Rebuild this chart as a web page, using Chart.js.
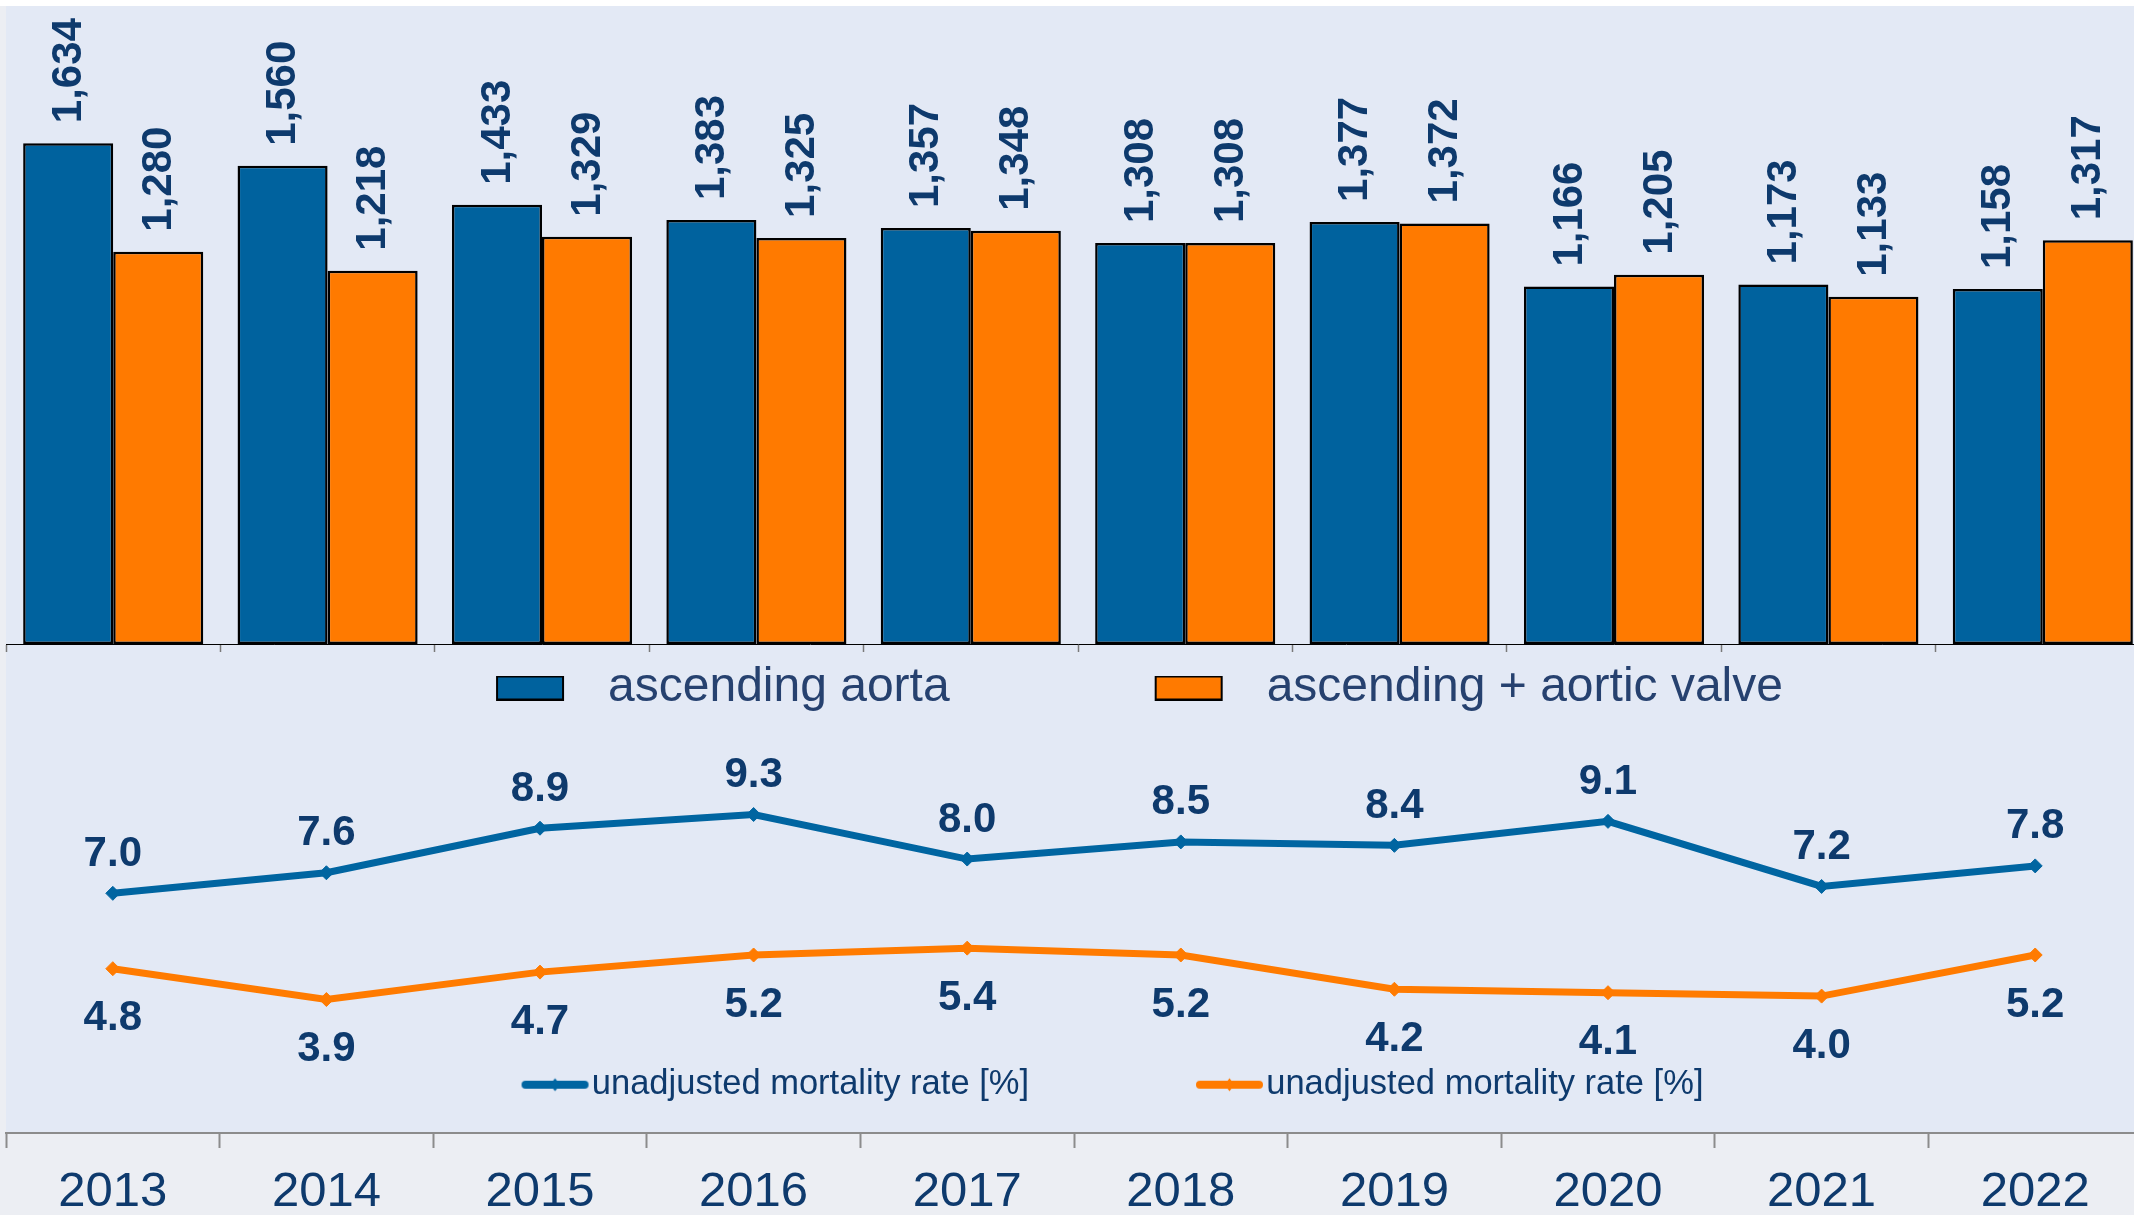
<!DOCTYPE html>
<html>
<head>
<meta charset="utf-8">
<script src="https://cdn.jsdelivr.net/npm/chart.js@4.4.1/dist/chart.umd.min.js"></script>
<style>
  html, body { margin: 0; padding: 0; width: 2134px; height: 1215px; overflow: hidden; background: #ECEEF3; position: relative; }
  #topstrip { position: absolute; left: 0; top: 0; width: 2134px; height: 6px; background: #ffffff; }
  #panel { position: absolute; left: 6px; top: 6px; width: 2128px; height: 1128px; background: #E3E9F5; }
  canvas { position: absolute; }
  #c1 { left: -64px; top: 0px; }
  #c2 { left: -72px; top: 700px; }
</style>
</head>
<body>
<div id="topstrip"></div>
<div id="panel"></div>
<canvas id="c1" width="2214" height="722"></canvas>
<canvas id="c2" width="2222" height="515"></canvas>
<script>
// ---- data ----
const years = ['2013', '2014', '2015', '2016', '2017', '2018', '2019', '2020', '2021', '2022'];
const barSeriesNames = ['ascending aorta', 'ascending + aortic valve'];
const ascendingAorta = [1634, 1560, 1433, 1383, 1357, 1308, 1377, 1166, 1173, 1158];
const ascendingValve = [1280, 1218, 1329, 1325, 1348, 1308, 1372, 1205, 1133, 1317];
const lineSeriesNames = ['unadjusted mortality rate [%]', 'unadjusted mortality rate [%]'];
const mortalityAorta = [7.0, 7.6, 8.9, 9.3, 8.0, 8.5, 8.4, 9.1, 7.2, 7.8];
const mortalityValve = [4.8, 3.9, 4.7, 5.2, 5.4, 5.2, 4.2, 4.1, 4.0, 5.2];

// ---- styles ----
const FONT = "'Liberation Sans', Arial, Helvetica, sans-serif";
const BLUE = '#00629E';
const ORANGE = '#FF7A00';
const LBLUE = '#0065A1';
const LORANGE = '#FF7B00';
const NAVY = '#0E3A6D';

// legend symbol images
function boxSymbol(W, color) {
  const c = document.createElement('canvas');
  c.width = W; c.height = 25;
  const g = c.getContext('2d');
  g.fillStyle = color;
  g.fillRect(W - 88 + 1, 1, 66, 23);
  g.strokeStyle = '#000';
  g.lineWidth = 2;
  g.strokeRect(W - 88 + 1, 1, 66, 23);
  return c;
}
function lineSymbol(W, color) {
  const c = document.createElement('canvas');
  c.width = W + 38; c.height = 20;
  const g = c.getContext('2d');
  const x0 = W - 53 + 19, x1 = W + 14 + 19, cy = 10;
  g.strokeStyle = color; g.lineWidth = 8; g.lineCap = 'round';
  g.beginPath(); g.moveTo(x0 + 4, cy); g.lineTo(x1 - 4, cy); g.stroke();
  const cx = (x0 + x1) / 2;
  g.fillStyle = color;
  g.beginPath(); g.moveTo(cx, cy - 6.5); g.lineTo(cx + 5, cy); g.lineTo(cx, cy + 6.5); g.lineTo(cx - 5, cy); g.closePath(); g.fill();
  return c;
}
const BAR_SYM_W = 281;
const LINE_SYM_W = 200;
const barSymbols = [boxSymbol(BAR_SYM_W, BLUE), boxSymbol(BAR_SYM_W, ORANGE)];
const lineSymbols = [lineSymbol(LINE_SYM_W, LBLUE), lineSymbol(LINE_SYM_W, LORANGE)];

function labelsWith(symbols) {
  return function (chart) {
    const items = Chart.defaults.plugins.legend.labels.generateLabels(chart);
    items.forEach((it, i) => { it.pointStyle = symbols[i]; });
    return items;
  };
}

// value labels plugin
const valueLabels = {
  id: 'valueLabels',
  afterDatasetsDraw(chart, args, opts) {
    const ctx = chart.ctx;
    ctx.save();
    ctx.fillStyle = opts.color;
    ctx.font = 'bold ' + opts.size + 'px ' + FONT;
    chart.data.datasets.forEach((ds, di) => {
      const meta = chart.getDatasetMeta(di);
      meta.data.forEach((el, i) => {
        const v = ds.data[i];
        if (opts.mode === 'bar') {
          ctx.save();
          ctx.translate(el.x + 1, el.y - opts.gap);
          ctx.rotate(-Math.PI / 2);
          ctx.textAlign = 'left';
          ctx.textBaseline = 'middle';
          ctx.fillText(v.toLocaleString('en-US'), 0, 0);
          ctx.restore();
        } else {
          ctx.textAlign = 'center';
          ctx.textBaseline = 'middle';
          ctx.fillText(v.toFixed(1), el.x, el.y + opts.offsets[di]);
        }
      });
    });
    ctx.restore();
  }
};

// ---- bar chart ----
new Chart(document.getElementById('c1'), {
  type: 'bar',
  data: {
    labels: years,
    datasets: [
      { label: barSeriesNames[0], data: ascendingAorta, backgroundColor: BLUE, borderColor: '#000', borderWidth: 2.5, borderSkipped: false },
      { label: barSeriesNames[1], data: ascendingValve, backgroundColor: ORANGE, borderColor: '#000', borderWidth: 2.5, borderSkipped: false }
    ]
  },
  options: {
    responsive: false, animation: false, devicePixelRatio: 1,
    layout: { padding: { top: 31, left: 0, right: 0, bottom: 0 } },
    datasets: { bar: { categoryPercentage: 0.84, barPercentage: 1.0 } },
    scales: {
      x: {
        offset: true,
        grid: { offset: true, drawOnChartArea: false, drawTicks: true, tickLength: 8, tickColor: '#7a7a7a', tickWidth: 1.5 },
        border: { display: true, color: '#000', width: 1 },
        ticks: { display: false }
      },
      y: {
        min: 0, max: 2000,
        ticks: { display: false }, grid: { display: false }, border: { display: false },
        afterFit(s) { s.width = 70; }
      }
    },
    plugins: {
      legend: {
        position: 'bottom',
        labels: {
          usePointStyle: true, pointStyleWidth: BAR_SYM_W, padding: 12,
          color: '#26416F', font: { family: FONT, size: 48 },
          generateLabels: labelsWith(barSymbols)
        }
      },
      tooltip: { enabled: false },
      valueLabels: { mode: 'bar', gap: 20, size: 42, color: NAVY }
    }
  },
  plugins: [valueLabels]
});

// ---- line chart ----
new Chart(document.getElementById('c2'), {
  type: 'line',
  data: {
    labels: years,
    datasets: [
      { label: lineSeriesNames[0], data: mortalityAorta, borderColor: LBLUE, backgroundColor: LBLUE, borderWidth: 7,
        pointStyle: 'rectRot', pointRadius: 7, pointBorderWidth: 1, pointBackgroundColor: LBLUE, pointBorderColor: LBLUE, tension: 0, fill: false },
      { label: lineSeriesNames[1], data: mortalityValve, borderColor: LORANGE, backgroundColor: LORANGE, borderWidth: 7,
        pointStyle: 'rectRot', pointRadius: 7, pointBorderWidth: 1, pointBackgroundColor: LORANGE, pointBorderColor: LORANGE, tension: 0, fill: false }
    ]
  },
  options: {
    responsive: false, animation: false, devicePixelRatio: 1,
    layout: { padding: { top: 22, left: 0, right: 0, bottom: 103 } },
    scales: {
      x: {
        position: { y: 0 },
        offset: true,
        grid: { offset: true, drawOnChartArea: false, drawTicks: true, tickLength: 14, tickWidth: 2, tickColor: '#8c8c8c' },
        border: { display: true, color: '#8c8c8c', width: 2 },
        ticks: { color: NAVY, font: { family: FONT, size: 49 }, padding: 16, maxRotation: 0, autoSkip: false },
        afterFit(s) { s.height = 0; }
      },
      y: {
        min: 2.5, max: 12,
        ticks: { display: false }, grid: { display: false }, border: { display: false },
        afterFit(s) { s.width = 78; }
      }
    },
    plugins: {
      legend: {
        position: 'bottom',
        labels: {
          usePointStyle: true, pointStyleWidth: LINE_SYM_W, padding: 20,
          color: NAVY, font: { family: FONT, size: 34.5 },
          generateLabels: labelsWith(lineSymbols)
        }
      },
      tooltip: { enabled: false },
      valueLabels: { mode: 'line', size: 42, color: NAVY, offsets: [-39, 50] }
    }
  },
  plugins: [valueLabels]
});
</script>
</body>
</html>
